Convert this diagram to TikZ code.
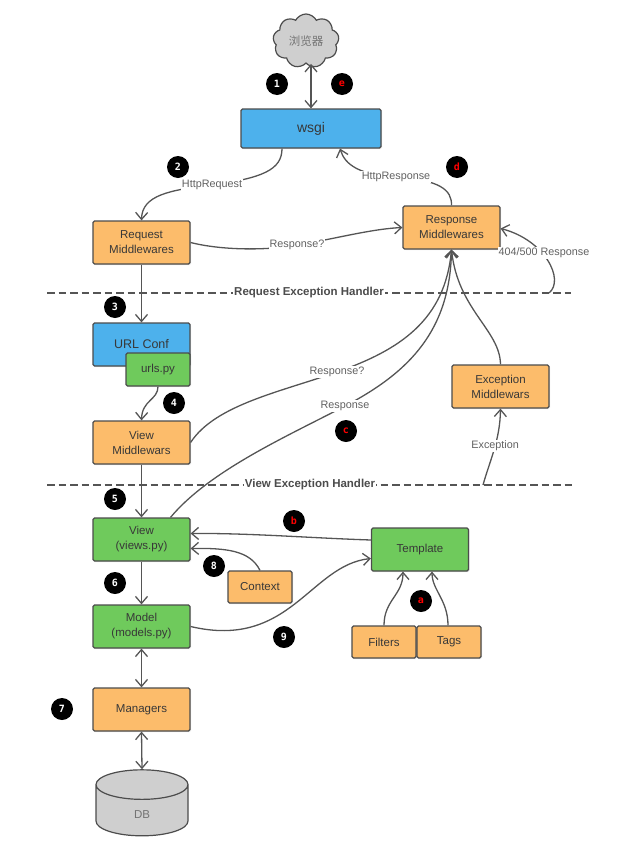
\documentclass[tikz,border=0pt]{standalone}
\usepackage{fontspec}
\setmainfont{Liberation Sans}
\newfontfamily\cjkfont{Noto Sans CJK SC}
\newfontfamily\badgefont{DejaVu Sans Mono}
\usetikzlibrary{arrows.meta}
\usetikzlibrary{shadows}
\usetikzlibrary{shapes.geometric}
\usetikzlibrary{shapes.symbols}

\definecolor{boxorange}{HTML}{FCBC6B}
\definecolor{boxblue}{HTML}{4DB1EC}
\definecolor{boxgreen}{HTML}{6FCA5C}
\definecolor{boxgray}{HTML}{CFCFCF}
\definecolor{linegray}{HTML}{555555}

\begin{document}
\begin{tikzpicture}[x=1pt,y=-1pt,font=\fontsize{11.5}{15}\selectfont]
	 \tikzstyle{box} = [draw=black!70,line width=1.2pt,rounded corners=1.5pt,align=center,text=black!78,inner sep=0pt,drop shadow={shadow xshift=1pt,shadow yshift=-1pt,opacity=.2}]
	 \tikzstyle{wide box} = [box,minimum width=97pt,minimum height=43pt]
	 \tikzstyle{small box} = [box,minimum width=64pt,minimum height=32pt]
	 \tikzstyle{orange box} = [wide box,fill=boxorange]
	 \tikzstyle{green box} = [wide box,fill=boxgreen]
	 \tikzstyle{badge} = [circle,fill=black,text=white,font=\fontsize{10}{10}\badgefont\bfseries,minimum size=22pt,inner sep=0pt]
	 \tikzstyle{red badge} = [badge,text=red]
	 \tikzstyle{link} = [draw=linegray,line width=1.3pt,-{Straight Barb[length=7pt,width=12pt]}]
	 \tikzstyle{both link} = [draw=linegray,line width=1.3pt,{Straight Barb[length=7pt,width=12pt]}-{Straight Barb[length=7pt,width=12pt]}]
	 \tikzstyle{handler} = [draw=linegray,line width=1.3pt,dash pattern=on 7.5pt off 4pt]
	 \tikzstyle{edge label} = [fill=white,inner sep=1pt,text=black!62,font=\fontsize{10.8}{12}\selectfont]
	 \tikzstyle{handler label} = [fill=white,inner sep=1pt,text=black!70,font=\fontsize{11.5}{13}\selectfont\bfseries]

	 \useasboundingbox (0,0) rectangle (623,846);

	% exception handler lines
	\coordinate (h1l) at (47,293);
	\coordinate (h1r) at (571,293);
	\coordinate (h2l) at (47,485);
	\coordinate (h2r) at (573,485);
	\coordinate (h1end) at (549,293);
	\coordinate (h2end) at (483,485);
	\draw[handler] (h1l) -- node[handler label,pos=0.5] (h1text) {Request Exception Handler} (h1r);
	\draw[handler] (h2l) -- node[handler label,pos=0.5] (h2text) {View Exception Handler} (h2r);

	% nodes
	\node[cloud,draw=black!70,line width=1.2pt,fill=boxgray,cloud puffs=9,cloud puff arc=125,aspect=1.2,minimum width=66pt,minimum height=54pt,inner sep=0pt,text=black!55] (browser) at (306,41) {\cjkfont 浏览器};
	\node[box,fill=boxblue,minimum width=140pt,minimum height=39pt,font=\fontsize{14}{16}\selectfont] (wsgi) at (311,128.5) {wsgi};
	\node[orange box] (reqmw) at (141.5,242.5) {Request\\Middlewares};
	\node[orange box] (respmw) at (451.5,227.5) {Response\\Middlewares};
	\node[wide box,fill=boxblue,font=\fontsize{12.5}{14}\selectfont] (urlconf) at (141.5,344.5) {URL Conf};
	\node[small box,fill=boxgreen,minimum height=33pt] (urls) at (158,369.5) {urls.py};
	\node[orange box] (viewmw) at (141.5,442.5) {View\\Middlewars};
	\node[orange box] (excmw) at (500.5,386.5) {Exception\\Middlewars};
	\node[green box] (view) at (141.5,539.5) {View\\(views.py)};
	\node[small box,fill=boxorange] (context) at (260,587) {Context};
	\node[green box] (template) at (420,549.5) {Template};
	\node[green box] (model) at (141.5,626.5) {Model\\(models.py)};
	\node[small box,fill=boxorange] (filters) at (384,642) {Filters};
	\node[small box,fill=boxorange] (tags) at (449,642) {Tags};
	\node[orange box] (managers) at (141.5,709.5) {Managers};
	\node[cylinder,draw=black!70,line width=1.2pt,fill=boxgray,shape border rotate=90,aspect=1.85,minimum width=92pt,minimum height=66pt,inner sep=0pt,text=black!55] (db) at (142,810.5) {\vphantom{DB}\smash{\raisebox{-4pt}{DB}}};

	% badges
	\node[badge] (n1) at (277,84) {1};
	\node[red badge] (ne) at (342,84) {e};
	\node[badge] (n2) at (178,167) {2};
	\node[red badge] (nd) at (457,167) {d};
	\node[badge] (n3) at (115,307) {3};
	\node[badge] (n4) at (174,403) {4};
	\node[red badge] (nc) at (346,431) {c};
	\node[badge] (n5) at (115,499) {5};
	\node[red badge] (nb) at (294,521) {b};
	\node[badge] (n8) at (214,566) {8};
	\node[badge] (n6) at (115,583) {6};
	\node[badge] (n9) at (284,637) {9};
	\node[red badge] (na) at (421,601) {a};
	\node[badge] (n7) at (62,709) {7};

	% connectors
	\draw[both link] (browser.south -| wsgi.north) -- (wsgi.north);
	\draw[link] ([xshift=-29pt]wsgi.south) .. controls (282,170) and (262,178) .. node[edge label,pos=1] (l1) {HttpRequest} (212,185) .. controls (170,190) and (142,195) .. (reqmw.north);
	\draw[link] (respmw.north) .. controls (452,190) and (440,180) .. node[edge label,pos=1] (l2) {HttpResponse} (396,177) .. controls (360,175) and (345,165) .. ([xshift=29pt]wsgi.south);
	\draw[link] (reqmw.east) .. controls (220,250) and (265,251) .. node[edge label,pos=1] (l3) {Response?} (297,245) .. controls (330,240) and (370,229) .. (respmw.west);
	\draw[link] (h1end) .. controls (565,280) and (545,240) .. ([yshift=-1pt]respmw.east);
	\node[edge label] (l4) at (544,253) {404/500 Response};
	\draw[link] (reqmw.south) -- (urlconf.north);
	\draw[link] (urls.south) .. controls (158,400) and (142,400) .. (viewmw.north);
	\draw[link] (viewmw.east) .. controls (215,405) and (280,392) .. node[edge label,pos=1] (l5) {Response?} (337,372) .. controls (400,350) and (445,320) .. (respmw.south);
	\draw[link] ([xshift=29pt]view.north) .. controls (210,470) and (290,435) .. node[edge label,pos=1] (l6) {Response} (345,406) .. controls (410,372) and (450,330) .. (respmw.south);
	\draw[link] (excmw.north) .. controls (500,330) and (458,310) .. (respmw.south);
	\draw[link] (h2end) .. controls (490,460) and (500,440) .. node[edge label,pos=0.55] (l7) {Exception} (excmw.south);
	\draw[link] (viewmw.south) -- (view.north);
	\draw[link] ([yshift=9.5pt]template.west) .. controls (310,538) and (250,533) .. ([yshift=6pt]view.east);
	\draw[link] (context.north) .. controls (250,550) and (225,548) .. ([yshift=-9pt]view.east);
	\draw[link] (view.south) -- (model.north);
	\draw[link] (model.east) .. controls (290,650) and (310,565) .. ([yshift=-9pt]template.west);
	\draw[link] (filters.north) .. controls (384,600) and (403,595) .. ([xshift=-17pt]template.south);
	\draw[link] ([xshift=-1pt]tags.north) .. controls (448,600) and (432,590) .. ([xshift=12pt]template.south);
	\draw[both link] (model.south) -- (managers.north);
	\draw[both link] (managers.south) -- (db.north);
\end{tikzpicture}
\end{document}
